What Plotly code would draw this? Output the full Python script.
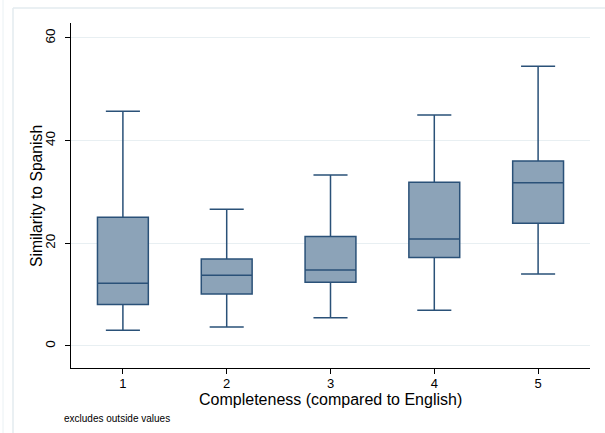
import plotly.graph_objects as go

categories = [1, 2, 3, 4, 5]
lower_whisker = [3.05, 3.7, 5.5, 6.95, 14.0]
q1 = [8.05, 10.13, 12.4, 17.2, 23.9]
median = [12.2, 13.77, 14.8, 20.85, 31.8]
q3 = [25.07, 16.95, 21.3, 31.9, 36.0]
upper_whisker = [45.7, 26.6, 33.3, 45.0, 54.5]
y_ticks = [0, 20, 40, 60]

W, H = 605, 433
L, R, T, B = 71, 15, 23, 65
PW, PH = W - L - R, H - T - B


def px_x(p):
    return (p - L) / PW


def px_y(p):
    return (H - B - p) / PH


fig = go.Figure()
fig.add_trace(go.Box(
    x=categories, q1=q1, median=median, q3=q3,
    lowerfence=lower_whisker, upperfence=upper_whisker,
    width=0.49, whiskerwidth=0.67,
    fillcolor="#8ca3b8",
    line=dict(color="#2a5178", width=1.5),
    boxpoints=False, showlegend=False, hoverinfo="skip",
))

font = "Liberation Sans, Arial, Helvetica, sans-serif"
fig.update_layout(
    width=W, height=H,
    margin=dict(l=L, r=R, t=T, b=B, pad=0, autoexpand=False),
    paper_bgcolor="white", plot_bgcolor="white",
    font=dict(family=font, color="black", size=13),
    xaxis=dict(
        range=[0.5, 5.5], tickmode="array", tickvals=categories,
        ticktext=[str(c) for c in categories],
        showgrid=False, zeroline=False, showline=True, linecolor="black",
        linewidth=1, ticks="outside", ticklen=5, tickcolor="black",
        tickfont=dict(size=13), ticklabelstandoff=-2,
    ),
    yaxis=dict(
        range=[-4.3, 62.9], tickmode="array", tickvals=y_ticks,
        ticktext=[str(v) for v in y_ticks], tickangle=-90,
        showgrid=True, gridcolor="#e8eff2", gridwidth=1.3,
        zeroline=False, showline=True, linecolor="black", linewidth=1,
        ticks="outside", ticklen=5, tickcolor="black",
        tickfont=dict(size=13.5), ticklabelstandoff=5,
    ),
    shapes=[
        dict(type="line", xref="paper", yref="paper",
             x0=px_x(13), x1=px_x(13), y0=px_y(H), y1=px_y(8),
             line=dict(color="#e3ebef", width=1.5)),
        dict(type="line", xref="paper", yref="paper",
             x0=px_x(13), x1=px_x(W), y0=px_y(8), y1=px_y(8),
             line=dict(color="#e3ebef", width=1.5)),
        dict(type="line", xref="paper", yref="paper",
             x0=px_x(3), x1=px_x(3), y0=px_y(H), y1=px_y(0),
             line=dict(color="#eaf1f4", width=1)),
    ],
    annotations=[
        dict(text="Similarity to Spanish", xref="paper", yref="paper",
             x=px_x(37), y=px_y(196), textangle=-90,
             xanchor="center", yanchor="middle", showarrow=False,
             font=dict(size=15.7)),
        dict(text="Completeness (compared to English)", xref="paper", yref="paper",
             x=px_x(330), y=px_y(399),
             xanchor="center", yanchor="middle", showarrow=False,
             font=dict(size=16)),
        dict(text="excludes outside values", xref="paper", yref="paper",
             x=px_x(62), y=px_y(418),
             xanchor="left", yanchor="middle", showarrow=False,
             font=dict(size=10)),
    ],
)

fig.write_html("out.html", config={"displayModeBar": False},
               post_script="document.body.style.margin='0';")
